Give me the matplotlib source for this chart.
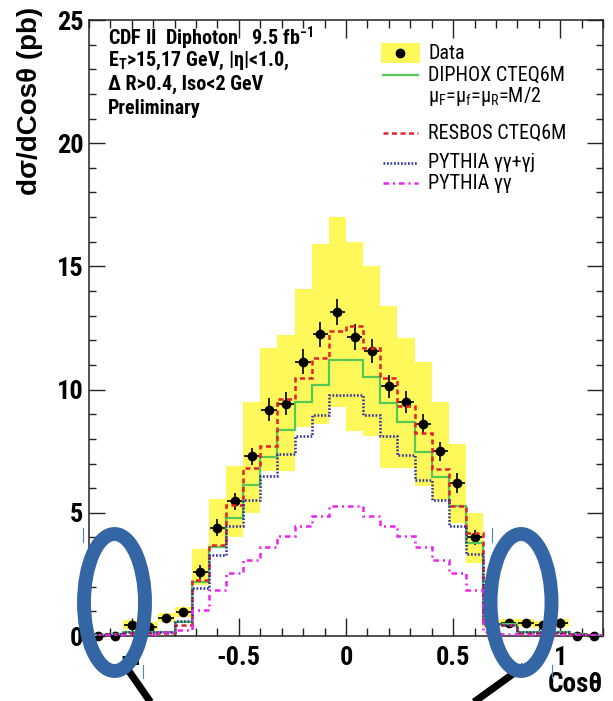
import numpy as np
import matplotlib
matplotlib.use("Agg")
import matplotlib.pyplot as plt
from matplotlib import font_manager as fm
from matplotlib.patches import Ellipse, Rectangle
from matplotlib.lines import Line2D
from matplotlib.ticker import MultipleLocator, FuncFormatter


def pick_narrow(candidates, fallback="Liberation Sans"):
    """First family that ships static regular and bold faces."""
    for fam in candidates:
        faces = [f for f in fm.fontManager.ttflist
                 if f.name == fam and "[" not in f.fname and f.style == "normal"]
        weights = set()
        for f in faces:
            w = f.weight if isinstance(f.weight, int) else (700 if f.weight == "bold" else 400)
            weights.add(w)
        if any(w >= 700 for w in weights) and any(350 <= w <= 500 for w in weights):
            return fam
    return fallback


NARROW = pick_narrow(["Liberation Sans Narrow", "Nimbus Sans Narrow", "Arial Narrow",
                      "Roboto Condensed", "IBM Plex Sans Condensed", "Archivo Narrow",
                      "PT Sans Narrow", "Pragati Narrow", "Asap Condensed",
                      "Fira Sans Condensed", "Encode Sans Condensed"])
WIDE = "Liberation Sans"

plt.rcParams["axes.unicode_minus"] = False
plt.rcParams["mathtext.fontset"] = "custom"
plt.rcParams["mathtext.rm"] = NARROW
plt.rcParams["mathtext.bf"] = NARROW + ":bold"
plt.rcParams["mathtext.it"] = NARROW + ":italic"

# ---- binning: 30 bins of width 0.08 in cos(theta*) ----
bin_edges = np.round(np.linspace(-1.2, 1.2, 31), 2)
bin_centers = 0.5 * (bin_edges[:-1] + bin_edges[1:])

# measured cross section dsigma/dcos (pb) and statistical errors
data_xsec = [0.0, 0.0, 0.45, 0.37, 0.73, 0.97, 2.61, 4.40, 5.46, 7.29,
             9.19, 9.43, 11.14, 12.24, 13.14, 12.14, 11.56, 10.14, 9.49, 8.60,
             7.49, 6.21, 4.01, 0.50, 0.53, 0.53, 0.45, 0.53, 0.0, 0.0]
data_err = [0.0, 0.0, 0.08, 0.08, 0.10, 0.12, 0.28, 0.33, 0.35, 0.36,
            0.47, 0.47, 0.50, 0.52, 0.53, 0.52, 0.50, 0.47, 0.45, 0.42,
            0.40, 0.40, 0.30, 0.08, 0.08, 0.08, 0.08, 0.08, 0.0, 0.0]

# systematic uncertainty band (lower / upper edge)
syst_low = [0.0, 0.0, 0.30, 0.25, 0.55, 0.77, 2.07, 3.60, 4.00, 5.00,
            6.70, 6.70, 8.50, 8.60, 9.30, 8.30, 8.10, 6.80, 6.80, 6.10,
            5.50, 4.60, 2.97, 0.35, 0.37, 0.37, 0.33, 0.37, 0.0, 0.0]
syst_high = [0.0, 0.0, 0.65, 0.55, 0.93, 1.18, 3.54, 5.57, 6.90, 9.50,
             11.70, 12.20, 14.10, 15.90, 17.00, 16.00, 15.00, 13.40, 12.10, 11.10,
             9.50, 7.80, 5.00, 0.65, 0.68, 0.68, 0.60, 0.68, 0.0, 0.0]

# theory predictions
diphox = [0.05, 0.08, 0.15, 0.15, 0.18, 0.55, 2.20, 3.62, 4.80, 6.14,
          7.27, 8.37, 9.48, 10.18, 11.22, 11.22, 10.50, 9.46, 8.67, 7.45,
          6.44, 5.28, 3.77, 0.50, 0.48, 0.15, 0.15, 0.15, 0.08, 0.05]
resbos = [0.05, 0.08, 0.12, 0.12, 0.12, 0.45, 2.28, 3.70, 5.30, 6.82,
          7.70, 9.62, 10.47, 11.29, 12.37, 12.60, 11.67, 10.47, 9.32, 8.24,
          6.78, 5.28, 4.16, 0.45, 0.45, 0.12, 0.12, 0.12, 0.08, 0.05]
pythia_gg_gj = [0.05, 0.08, 0.18, 0.18, 0.15, 0.62, 1.95, 3.30, 4.47, 5.53,
                6.48, 7.40, 8.10, 8.98, 9.80, 9.80, 8.98, 8.10, 7.36, 6.34,
                5.53, 4.48, 3.33, 0.50, 0.45, 0.15, 0.15, 0.15, 0.08, 0.05]
pythia_gg = [0.03, 0.03, 0.05, 0.05, 0.15, 0.24, 1.06, 1.87, 2.55, 3.09,
             3.63, 4.07, 4.48, 4.85, 5.26, 5.28, 4.85, 4.47, 4.07, 3.63,
             3.09, 2.55, 1.87, 0.15, 0.10, 0.05, 0.05, 0.05, 0.03, 0.03]

YELLOW = "#FFF85A"
GREEN = "#55C855"
RED = "#E4202A"
BLUE = "#2B2FA0"
MAGENTA = "#EE22EE"
RING = "#3466A5"

W, H = 613, 701
fig = plt.figure(figsize=(W / 100, H / 100), dpi=100)
ax = fig.add_axes([89 / W, 1 - 636 / H, 514 / W, 616 / H])

lo = np.array(syst_low)
hi = np.array(syst_high)
ax.bar(bin_centers, hi - lo, bottom=lo, width=0.08, color=YELLOW,
       linewidth=0, zorder=1)

eb = ax.errorbar(bin_centers, data_xsec, yerr=data_err, xerr=0.036,
                 fmt="o", color="black", ms=6, elinewidth=1.2, capsize=0,
                 zorder=3)
eb.lines[0].set_clip_on(False)

ax.stairs(diphox, bin_edges, baseline=None, color=GREEN, lw=1.6, zorder=4)
ax.stairs(resbos, bin_edges, baseline=None, color=RED, lw=1.8,
          linestyle=(0, (2.0, 1.4)), zorder=4)
ax.stairs(pythia_gg_gj, bin_edges, baseline=None, color=BLUE, lw=1.8,
          linestyle=(0, (0.7, 0.7)), zorder=4)
ax.stairs(pythia_gg, bin_edges, baseline=None, color=MAGENTA, lw=1.8,
          linestyle=(0, (2.2, 1.6, 0.8, 1.6)), zorder=4)

ax.set_xlim(-1.2, 1.2)
ax.set_ylim(0, 25)
ax.xaxis.set_major_locator(MultipleLocator(0.5))
ax.xaxis.set_minor_locator(MultipleLocator(0.1))
ax.yaxis.set_major_locator(MultipleLocator(5))
ax.yaxis.set_minor_locator(MultipleLocator(1))
ax.xaxis.set_major_formatter(FuncFormatter(lambda v, p: "%g" % round(v, 2)))
ax.yaxis.set_major_formatter(FuncFormatter(lambda v, p: "%g" % round(v, 2)))
ax.tick_params(which="both", direction="in", top=True, right=True,
               width=1.0, color="#222222")
ax.tick_params(axis="x", which="major", length=13, pad=7)
ax.tick_params(axis="x", which="minor", length=5.8)
ax.tick_params(axis="y", which="major", length=11.5, pad=4)
ax.tick_params(axis="y", which="minor", length=5)
for lab in ax.get_xticklabels() + ax.get_yticklabels():
    lab.set_fontfamily(NARROW)
    lab.set_fontweight("bold")
    lab.set_fontsize(19)
for sp in ax.spines.values():
    sp.set_linewidth(1.1)
    sp.set_color("#222222")

# axis titles
fig.text(30 / W, 1 - 7 / H, "dσ/dCosθ (pb)", rotation=90, ha="center",
         va="top", fontsize=20, fontweight="bold", family=WIDE)
fig.text(603 / W, 1 - 685 / H, "Cosθ", ha="right", va="center",
         fontsize=19.5, fontweight="bold", family=NARROW)

# selection text in the upper-left corner
info_lines = [
    r"CDF II  Diphoton   9.5 fb$^{\mathbf{-1}}$",
    r"E$_\mathbf{T}$>15,17 GeV, |η|<1.0,",
    "Δ R>0.4, Iso<2 GeV",
    "Preliminary",
]
info_y = [0.970, 0.933, 0.895, 0.856]
for txt, yy in zip(info_lines, info_y):
    ax.text(0.037, yy, txt, transform=ax.transAxes, ha="left", va="center",
            fontsize=14.5, fontweight="bold", family=NARROW)

# legend
leg_x0, leg_x1, leg_tx = 0.572, 0.640, 0.660
ax.add_patch(Rectangle((0.568, 0.930), 0.076, 0.033, transform=ax.transAxes,
                       facecolor=YELLOW, edgecolor="none", zorder=5))
ax.plot([0.606], [0.946], "o", color="black", ms=6, transform=ax.transAxes,
        zorder=6)
legend_rows = [
    ("Data", None, 0.946),
    ("DIPHOX CTEQ6M", dict(color=GREEN, lw=1.6, ls="-"), 0.911),
    (r"μ$_\mathrm{F}$=μ$_\mathrm{f}$=μ$_\mathrm{R}$=M/2", None, 0.875),
    ("RESBOS CTEQ6M", dict(color=RED, lw=1.8, ls=(0, (2.0, 1.4))), 0.8166),
    ("PYTHIA γγ+γj", dict(color=BLUE, lw=1.8, ls=(0, (0.7, 0.7))), 0.768),
    ("PYTHIA γγ", dict(color=MAGENTA, lw=1.8, ls=(0, (2.2, 1.6, 0.8, 1.6))), 0.735),
]
for label, style, yy in legend_rows:
    if style is not None:
        ax.add_line(Line2D([leg_x0, leg_x1], [yy, yy], transform=ax.transAxes,
                           zorder=6, **style))
    ax.text(leg_tx, yy, label, transform=ax.transAxes, ha="left",
            va="center", fontsize=14.5, family=NARROW)


# highlight rings drawn over the figure (pixel geometry)
def fx(px):
    return px / W


def fy(py):
    return 1 - py / H


for cx in (114.5, 521.0):
    fig.add_artist(Ellipse((fx(cx), fy(602.5)), 61 / W, 137 / H,
                           transform=fig.transFigure, fill=False,
                           edgecolor=RING, lw=10, zorder=10))
for (x0, y0), (x1, y1) in [((124, 664), (156, 710)), ((524, 666), (463, 710))]:
    fig.add_artist(Line2D([fx(x0), fx(x1)], [fy(y0), fy(y1)],
                          transform=fig.transFigure, color="black", lw=5.2,
                          zorder=9, solid_capstyle="butt"))
for xx, (ya, yb) in [(83, (528, 542)), (143, (665, 678)),
                     (492, (528, 542)), (552, (665, 678))]:
    fig.add_artist(Line2D([fx(xx), fx(xx)], [fy(ya), fy(yb)],
                          transform=fig.transFigure, color="#4F7FC0", lw=0.8,
                          zorder=11))

fig.savefig("out.png", dpi=100)
